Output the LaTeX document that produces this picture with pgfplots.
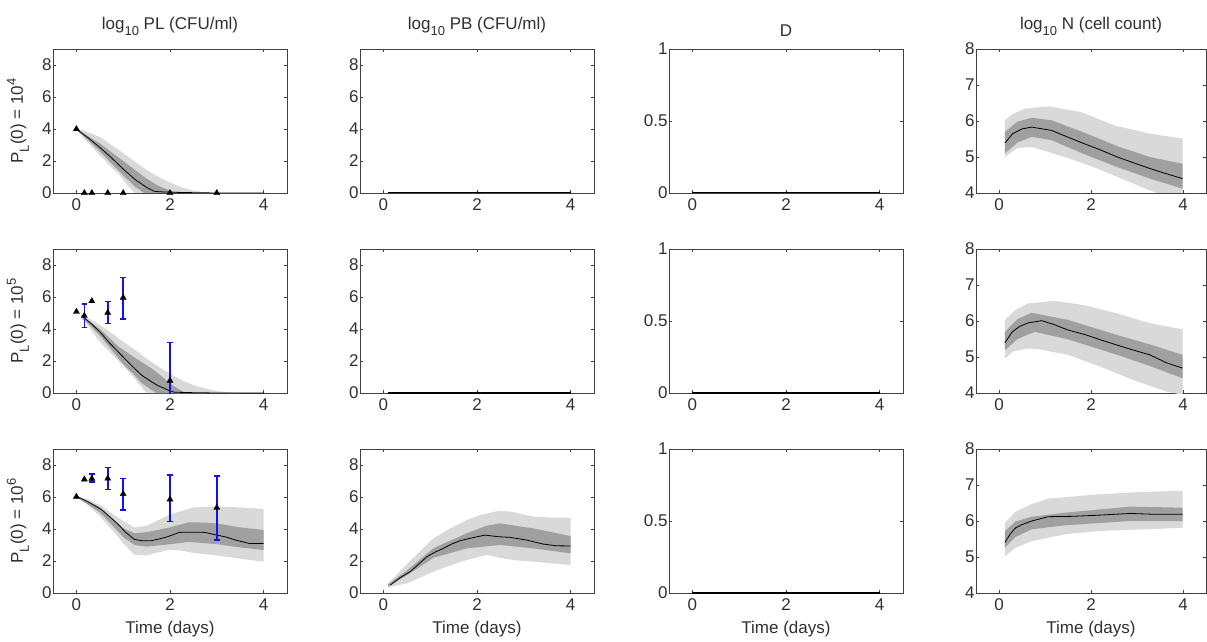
\documentclass[border=0pt]{standalone}
\usepackage{fontspec}
\setmainfont{Liberation Sans}
\usepackage{pgfplots}
\pgfplotsset{compat=1.18}
\definecolor{lightband}{HTML}{D9D9D9}
\definecolor{darkband}{HTML}{A0A0A0}
\definecolor{framecol}{HTML}{404040}
\definecolor{textcol}{HTML}{303030}
\definecolor{ebar}{HTML}{1010F0}
\newcommand{\fs}{\fontsize{17}{20}\selectfont}
\newcommand{\lsub}[1]{\raisebox{-6pt}{\fontsize{13}{13}\selectfont #1}}
\newcommand{\lsup}[1]{\raisebox{7pt}{\fontsize{13}{13}\selectfont #1}}
\pgfplotsset{
 panel/.style={
  scale only axis, width=234pt, height=144pt, anchor=south west,
  xmin=-0.5, xmax=4.5, xtick={0,2,4},
  tick align=inside, major tick length=3pt,
  axis line style={framecol, line width=0.9pt},
  every tick/.style={framecol, line width=0.6pt},
  tick label style={font=\fs, text=textcol},
  /pgf/number format/assume math mode=true,
  x tick label style={yshift=-2pt},
  y tick label style={xshift=2pt},
  title style={font=\fs, text=textcol, at={(axis description cs:0.5,1)}, anchor=base, yshift=14pt},
  xlabel style={font=\fs, text=textcol, at={(axis description cs:0.5,0)}, anchor=base, yshift=-40pt},
  ylabel style={font=\fs, text=textcol, at={(axis description cs:0,0.5)}, anchor=base, yshift=30pt},
 },
 pl/.style={panel, ymin=0, ymax=9, ytick={0,2,4,6,8}},
 dd/.style={panel, ymin=0, ymax=1, ytick={0,0.5,1}},
 nn/.style={panel, ymin=4, ymax=8, ytick={4,5,6,7,8}, width=230pt},
 lb/.style={fill=lightband, draw=none, forget plot},
 db/.style={fill=darkband, draw=none, forget plot},
 ln/.style={black, line width=0.8pt, no marks},
 zl/.style={black, line width=1.8pt, no marks},
 pts/.style={only marks, mark=triangle*, mark size=3.5pt, black},
 eb/.style={draw=ebar, line width=1.5pt, no marks, unbounded coords=jump, forget plot},
}
\begin{document}
\begin{tikzpicture}
\useasboundingbox (0,0) rectangle (1207pt,641pt);
% ---------------- Row 1 ----------------
\begin{axis}[pl, at={(53pt,448pt)}, title={log\lsub{10} PL (CFU/ml)}, ylabel={P\lsub{L}(0) = 10\lsup{4}}]
\addplot[lb] coordinates {(0,4.05)(0.25,3.8)(0.5,3.5)(0.75,3.0)(1.0,2.5)(1.25,1.95)(1.5,1.45)(1.75,1.0)(2.0,0.65)(2.25,0.35)(2.5,0.15)(2.75,0.04)(3.0,0)
 (1.25,0)(1.1,0.45)(0.9,1.2)(0.75,1.6)(0.5,2.35)(0.25,3.15)(0,3.95)};
\addplot[db] coordinates {(0,4)(0.5,3.1)(1.0,2.0)(1.25,1.45)(1.5,0.9)(1.75,0.45)(2.0,0.15)(2.2,0)
 (1.45,0)(1.25,0.4)(1.0,1.1)(0.75,1.85)(0.5,2.6)(0.25,3.3)(0,3.95)};
\addplot[ln] coordinates {(0,4)(0.25,3.45)(0.5,2.85)(0.75,2.2)(1.0,1.5)(1.25,0.85)(1.5,0.35)(1.65,0.12)(1.75,0.08)(2,0.05)(2.5,0.02)(3,0)(4,0)};
\addplot[pts] coordinates {(0,4)(0.17,0)(0.33,0)(0.67,0)(1,0)(2,0)(3,0)};
\end{axis}
\begin{axis}[pl, at={(360pt,448pt)}, title={log\lsub{10} PB (CFU/ml)}]
\addplot[zl] coordinates {(0.1,0)(4,0)};
\end{axis}
\begin{axis}[dd, at={(669pt,448pt)}, title={D}, title style={yshift=-7.4pt}]
\addplot[zl] coordinates {(0,0)(4,0)};
\end{axis}
\begin{axis}[nn, at={(976pt,448pt)}, title={log\lsub{10} N (cell count)}]
\addplot[lb] coordinates {(0.13,6.02)(0.3,6.2)(0.57,6.34)(1.07,6.41)(1.78,6.25)(2.5,5.88)(3.28,5.65)(3.99,5.51)
 (3.99,3.65)(3.42,4.0)(2.85,4.3)(2.14,4.68)(1.43,5.0)(0.71,5.28)(0.4,5.25)(0.13,5.0)};
\addplot[db] coordinates {(0.13,5.7)(0.4,5.98)(0.71,6.09)(1.14,6.02)(1.85,5.68)(2.57,5.3)(3.28,5.0)(3.99,4.81)
 (3.99,4.12)(3.28,4.4)(2.57,4.72)(1.85,5.08)(1.14,5.47)(0.71,5.56)(0.4,5.4)(0.13,5.1)};
\addplot[ln] coordinates {(0.13,5.39)(0.3,5.65)(0.5,5.78)(0.71,5.83)(1.14,5.74)(1.5,5.55)(1.85,5.37)(2.2,5.2)(2.57,5.0)(2.9,4.85)(3.28,4.68)(3.6,4.55)(3.99,4.4)};
\end{axis}
% ---------------- Row 2 ----------------
\begin{axis}[pl, at={(53pt,248pt)}, ylabel={P\lsub{L}(0) = 10\lsup{5}}]
\addplot[lb] coordinates {(0.1,4.9)(0.25,4.7)(0.5,4.25)(0.75,3.75)(1.0,3.2)(1.25,2.7)(1.5,2.15)(1.75,1.65)(2.0,1.2)(2.25,0.8)(2.5,0.5)(2.75,0.28)(3.0,0.12)(3.25,0.04)(3.5,0)
 (1.5,0)(1.3,0.7)(1.1,1.4)(0.9,2.0)(0.7,2.6)(0.53,3.1)(0.35,3.8)(0.2,4.4)(0.1,4.7)};
\addplot[db] coordinates {(0.1,4.85)(0.5,4.0)(0.9,2.9)(1.25,2.2)(1.6,1.55)(1.8,1.1)(2.0,0.6)(2.15,0.3)(2.3,0.05)(2.4,0)
 (1.7,0)(1.6,0.2)(1.4,0.6)(1.24,1.12)(1.0,1.8)(0.75,2.7)(0.53,3.5)(0.3,4.2)(0.1,4.75)};
\addplot[ln] coordinates {(0.15,4.75)(0.35,4.25)(0.53,3.73)(0.7,3.15)(0.89,2.58)(1.05,2.1)(1.24,1.54)(1.4,1.1)(1.6,0.71)(1.75,0.45)(1.88,0.29)(2.0,0.12)(2.1,0.05)(2.5,0.02)(3,0)(4,0)};
% error bars: vertical bar, top cap, bottom cap
\addplot[eb] coordinates {
 (0.17,4.10)(0.17,5.56)(0.17,nan)(0.11,5.56)(0.23,5.56)(0.17,nan)(0.11,4.10)(0.23,4.10)(0.17,nan)
 (0.67,4.35)(0.67,5.73)(0.67,nan)(0.61,5.73)(0.73,5.73)(0.67,nan)(0.61,4.35)(0.73,4.35)(0.67,nan)
 (1,4.62)(1,7.23)(1,nan)(0.94,7.23)(1.06,7.23)(1,nan)(0.94,4.62)(1.06,4.62)(1,nan)
 (2,-1.63)(2,3.17)(2,nan)(1.94,3.17)(2.06,3.17)(2,nan)};
\addplot[pts] coordinates {(0,5.08)(0.17,4.83)(0.33,5.75)(0.67,5.02)(1,5.96)(2,0.77)};
\end{axis}
\begin{axis}[pl, at={(360pt,248pt)}]
\addplot[zl] coordinates {(0.1,0)(4,0)};
\end{axis}
\begin{axis}[dd, at={(669pt,248pt)}]
\addplot[zl] coordinates {(0,0)(4,0)};
\end{axis}
\begin{axis}[nn, at={(976pt,248pt)}]
\addplot[lb] coordinates {(0.13,6.03)(0.35,6.3)(0.64,6.49)(1.21,6.56)(1.85,6.44)(2.57,6.21)(3.28,5.94)(3.99,5.77)
 (3.99,3.95)(3.64,4.04)(2.92,4.36)(2.21,4.73)(1.5,5.06)(0.93,5.2)(0.64,5.24)(0.3,5.15)(0.13,4.96)};
\addplot[db] coordinates {(0.13,5.7)(0.4,6.05)(0.71,6.23)(1.5,6.03)(2.57,5.61)(3.28,5.35)(3.99,5.06)
 (3.99,4.41)(3.28,4.75)(2.57,5.06)(1.5,5.49)(0.78,5.70)(0.4,5.5)(0.13,5.19)};
\addplot[ln] coordinates {(0.13,5.4)(0.29,5.7)(0.45,5.85)(0.64,5.95)(0.93,6.01)(1.2,5.9)(1.5,5.75)(1.85,5.63)(2.2,5.48)(2.57,5.33)(2.9,5.2)(3.28,5.06)(3.64,4.84)(3.99,4.69)};
\end{axis}
% ---------------- Row 3 ----------------
\begin{axis}[pl, at={(53pt,48pt)}, ylabel={P\lsub{L}(0) = 10\lsup{6}}, xlabel={Time (days)}]
\addplot[lb] coordinates {(0,6.05)(0.25,5.85)(0.5,5.5)(0.75,5.0)(1.0,4.5)(1.24,4.1)(1.5,4.2)(1.75,4.55)(2.0,4.9)(2.5,5.35)(3.0,5.4)(3.5,5.35)(4.0,5.25)
 (4,1.95)(3.5,2.15)(3.0,2.35)(2.5,2.5)(2.25,2.65)(2.0,2.7)(1.75,2.55)(1.5,2.35)(1.24,2.4)(1.0,3.1)(0.89,3.52)(0.5,4.8)(0.25,5.5)(0,6.0)};
\addplot[db] coordinates {(0,6.05)(0.5,5.35)(1.0,4.05)(1.24,3.73)(1.5,3.8)(2.0,4.1)(2.4,4.42)(2.74,4.4)(3.0,4.35)(3.5,4.1)(4.0,3.94)
 (4,2.69)(3.5,2.85)(3.0,3.05)(2.4,3.2)(2.0,3.05)(1.5,2.9)(1.24,3.0)(1.0,3.5)(0.5,5.05)(0,6.0)};
\addplot[ln] coordinates {(0,6.05)(0.25,5.7)(0.53,5.23)(0.7,4.8)(0.89,4.3)(1.05,3.8)(1.24,3.35)(1.4,3.27)(1.6,3.27)(1.8,3.4)(1.95,3.52)(2.2,3.79)(2.5,3.8)(2.74,3.79)(3.0,3.62)(3.2,3.5)(3.4,3.31)(3.69,3.1)(4.0,3.1)};
\addplot[eb] coordinates {
 (0.33,6.94)(0.33,7.44)(0.33,nan)(0.27,7.44)(0.39,7.44)(0.33,nan)(0.27,6.94)(0.39,6.94)(0.33,nan)
 (0.67,6.48)(0.67,7.85)(0.67,nan)(0.61,7.85)(0.73,7.85)(0.67,nan)(0.61,6.48)(0.73,6.48)(0.67,nan)
 (1,5.19)(1,7.15)(1,nan)(0.94,7.15)(1.06,7.15)(1,nan)(0.94,5.19)(1.06,5.19)(1,nan)
 (2,4.46)(2,7.37)(2,nan)(1.94,7.37)(2.06,7.37)(2,nan)(1.94,4.46)(2.06,4.46)(2,nan)
 (3,3.31)(3,7.31)(3,nan)(2.94,7.31)(3.06,7.31)(3,nan)(2.94,3.31)(3.06,3.31)(3,nan)};
\addplot[pts] coordinates {(0,6.02)(0.17,7.1)(0.33,7.15)(0.67,7.16)(1,6.19)(2,5.85)(3,5.33)};
\end{axis}
\begin{axis}[pl, at={(360pt,48pt)}, xlabel={Time (days)}]
\addplot[lb] coordinates {(0.1,0.6)(0.5,1.8)(1.07,3.42)(1.4,4.0)(1.78,4.56)(2.1,4.9)(2.49,5.15)(2.8,5.05)(3.2,4.77)(3.6,4.72)(4.0,4.7)
 (4,1.75)(3.6,1.85)(3.2,1.96)(2.8,2.05)(2.49,2.2)(2.2,2.38)(1.78,2.06)(1.4,1.7)(1.07,1.33)(0.5,0.6)(0.1,0.35)};
\addplot[db] coordinates {(0.1,0.55)(0.5,1.4)(1.07,2.8)(1.78,3.73)(2.2,4.2)(2.49,4.35)(3.2,4.04)(4,3.56)
 (4,2.48)(3.2,2.79)(2.49,3.0)(1.78,2.79)(1.07,2.2)(0.5,1.1)(0.1,0.4)};
\addplot[ln] coordinates {(0.15,0.5)(0.35,0.95)(0.57,1.33)(0.75,1.8)(0.93,2.27)(1.1,2.55)(1.28,2.79)(1.45,3.05)(1.64,3.27)(1.9,3.45)(2.17,3.62)(2.45,3.52)(2.7,3.48)(3.06,3.31)(3.41,3.06)(3.7,2.95)(4.0,2.94)};
\end{axis}
\begin{axis}[dd, at={(669pt,48pt)}, xlabel={Time (days)}]
\addplot[zl] coordinates {(0,0)(4,0)};
\end{axis}
\begin{axis}[nn, at={(976pt,48pt)}, xlabel={Time (days)}]
\addplot[lb] coordinates {(0.13,5.95)(0.35,6.25)(0.71,6.47)(1.07,6.62)(2.14,6.74)(3.0,6.8)(3.99,6.84)
 (3.99,5.81)(2.14,5.72)(1.43,5.63)(0.71,5.44)(0.35,5.25)(0.13,5.02)};
\addplot[db] coordinates {(0.13,5.72)(0.35,5.98)(0.71,6.12)(1.43,6.23)(2.85,6.4)(3.99,6.37)
 (3.99,6.0)(2.85,6.0)(1.43,5.88)(0.71,5.77)(0.35,5.55)(0.13,5.26)};
\addplot[ln] coordinates {(0.13,5.41)(0.25,5.65)(0.36,5.81)(0.5,5.9)(0.71,6.0)(1.07,6.12)(1.6,6.13)(2.14,6.16)(2.85,6.21)(3.3,6.19)(3.99,6.19)};
\end{axis}
\end{tikzpicture}
\end{document}
